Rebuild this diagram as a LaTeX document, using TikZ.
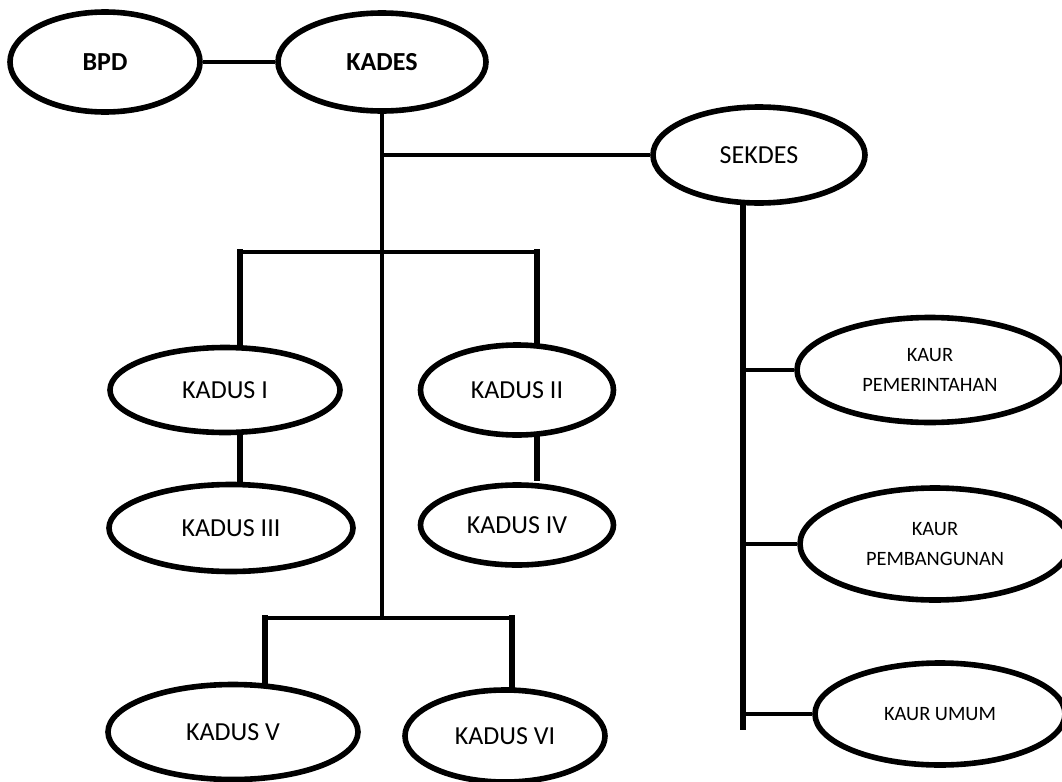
\documentclass[tikz,border=0pt]{standalone}
\usepackage{fontspec}
\setmainfont{Carlito}
\usetikzlibrary{shapes.geometric}

\begin{document}
\begin{tikzpicture}[
  x=0.5pt, y=-0.5pt,
  org_node/.style={ellipse, draw, line width=2.8pt, inner sep=0pt, align=center, font=\fontsize{13}{16}\selectfont},
  org_bold/.style={org_node, font=\fontsize{13}{16}\selectfont\bfseries},
  kaur_node/.style={org_node, font=\fontsize{10.2}{15}\selectfont},
  link/.style={line width=2.2pt},
  drop_link/.style={line width=3.2pt, line cap=rect},
]
\useasboundingbox (0,0) rectangle (1062,782);
% top row
\draw (105,62) node (bpd) [org_bold, minimum width=95pt, minimum height=50pt] {BPD};
\draw (382,62) node (kades) [org_bold, minimum width=104pt, minimum height=49pt] {KADES};
\draw (759,155) node (sekdes) [org_node, minimum width=106pt, minimum height=48pt] {SEKDES};
% kadus
\draw (225,390) node (kadusI) [org_node, minimum width=115pt, minimum height=42.5pt] {KADUS I};
\draw (517,390) node (kadusII) [org_node, minimum width=96.5pt, minimum height=45pt] {KADUS II};
\draw (231,528) node (kadusIII) [org_node, minimum width=122pt, minimum height=43.5pt] {KADUS III};
\draw (517,525) node (kadusIV) [org_node, minimum width=96.5pt, minimum height=40pt] {KADUS IV};
\draw (233,732) node (kadusV) [org_node, minimum width=125pt, minimum height=47.5pt] {KADUS V};
\draw (505,736) node (kadusVI) [org_node, minimum width=100pt, minimum height=46pt] {KADUS VI};
% kaur
\draw (930,370) node (kaurPem) [kaur_node, minimum width=133pt, minimum height=52.5pt] {KAUR\\PEMERINTAHAN};
\draw (935,544) node (kaurBang) [kaur_node, minimum width=135pt, minimum height=56pt] {KAUR\\PEMBANGUNAN};
\draw (940,714) node (kaurUmum) [kaur_node, minimum width=125pt, minimum height=51pt] {KAUR UMUM};
% junctions
\coordinate (barL) at (240,252);
\coordinate (barR) at (537,252);
\coordinate (stubIV) at (537,478);
\coordinate (barV) at (265,618);
\coordinate (barVI) at (512,618);
\coordinate (sekEnd) at (743,727);
% links
\draw [link] (bpd.east) -- (kades.west);
\draw [link] (kades.south) -- (kades.south |- barV);
\draw [link] (kades.south |- sekdes.west) -- (sekdes.west);
\draw [link] (barL) -- (barR);
\draw [drop_link] (kadusI.north -| barL) -- (barL);
\draw [drop_link] (kadusII.north -| barR) -- (barR);
\draw [drop_link] (kadusI.south -| barL) -- (kadusIII.north -| barL);
\draw [drop_link] (kadusII.south -| barR) -- (stubIV);
\draw [link] (barV) -- (barVI);
\draw [drop_link] (kadusV.north -| barV) -- (barV);
\draw [drop_link] (kadusVI.north -| barVI) -- (barVI);
\draw [drop_link] (sekdes.south -| sekEnd) -- (sekEnd);
\draw [link] (sekEnd |- kaurPem.west) -- (kaurPem.west);
\draw [link] (sekEnd |- kaurBang.west) -- (kaurBang.west);
\draw [link] (sekEnd |- kaurUmum.west) -- (kaurUmum.west);
\end{tikzpicture}
\end{document}
